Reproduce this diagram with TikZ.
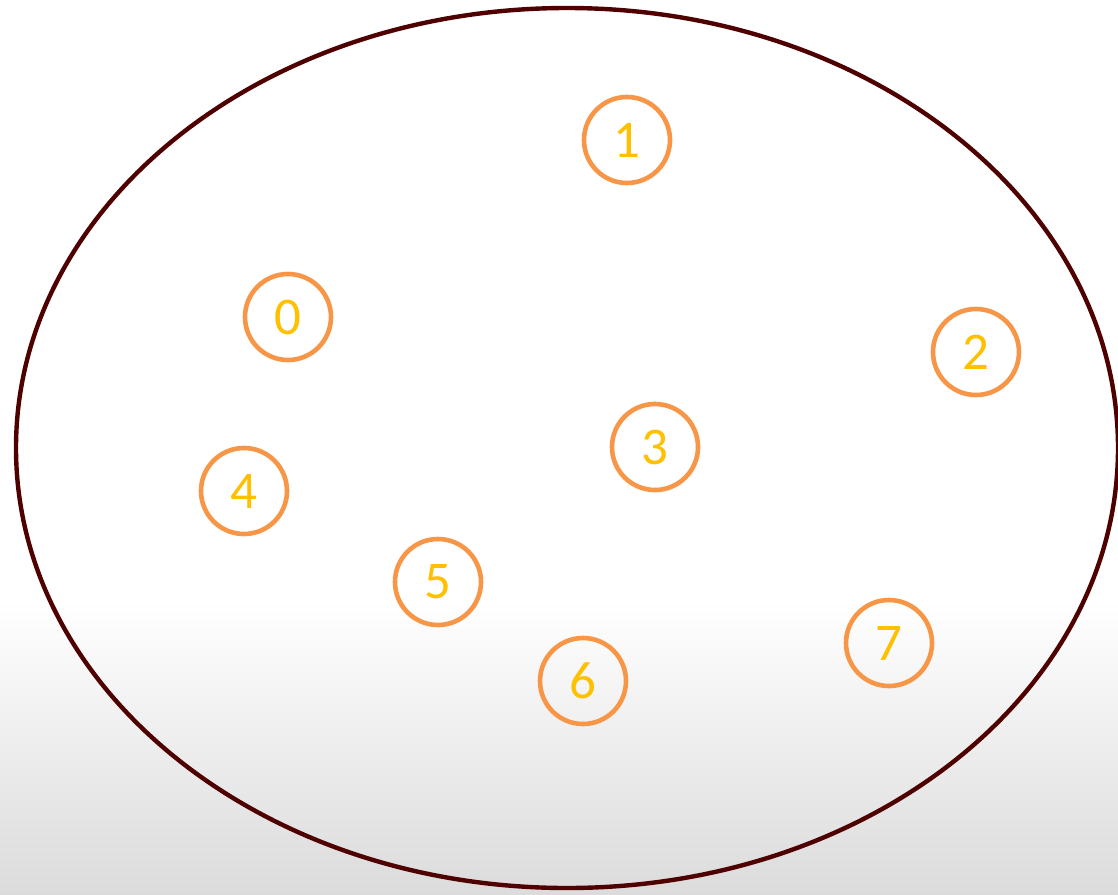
\documentclass[tikz,border=0pt]{standalone}
\usepackage{fontspec}
\setmainfont{Carlito}
\definecolor{ringc}{HTML}{F79646}
\definecolor{digitc}{HTML}{FFC000}
\definecolor{ellc}{HTML}{4F0000}
\tikzset{
  vert/.style={circle, draw=ringc, line width=4.6pt, minimum size=86pt, inner sep=0pt,
    text=digitc, font=\fontsize{53}{53}\selectfont},
  outer/.style={draw=ellc, line width=4.4pt}
}
\begin{document}
\begin{tikzpicture}[x=1pt,y=-1pt]
\useasboundingbox (0,0) rectangle (1118,894);
\clip (0,0) rectangle (1118,894);
\fill[white] (0,0) rectangle (1118,600);
\shade[top color=white, bottom color=black!14] (0,600) rectangle (1118,894);
\draw[outer] (567,448) ellipse [x radius=551, y radius=440];
\node[vert] (c1) at (627,140) {1};
\node[vert] (c0) at (288,317) {0};
\node[vert] (c2) at (976,352) {2};
\node[vert] (c3) at (655,447) {3};
\node[vert] (c4) at (244,491) {4};
\node[vert] (c5) at (438,582) {5};
\node[vert] (c6) at (583,681) {6};
\node[vert] (c7) at (889,643) {7};
\end{tikzpicture}
\end{document}
